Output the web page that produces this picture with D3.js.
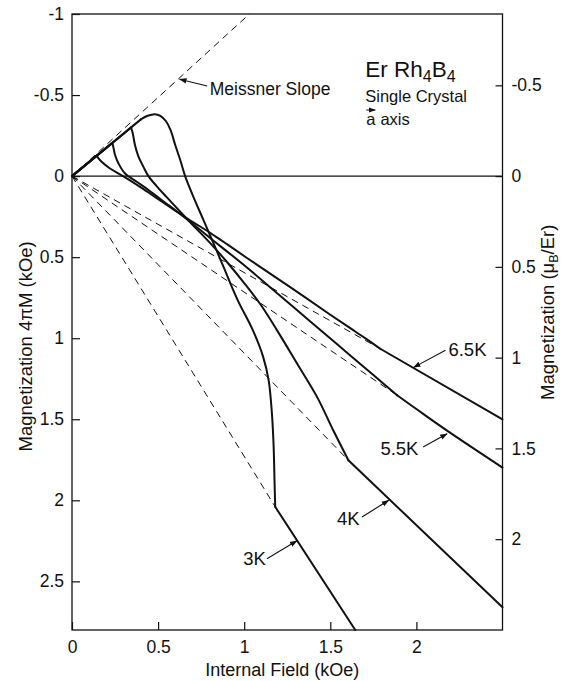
<!DOCTYPE html>
<html><head><meta charset="utf-8">
<script src="https://cdn.jsdelivr.net/npm/d3@7"></script>
<style>
body{margin:0;background:#fff}
svg{display:block}
text{font-family:"Liberation Sans",Arial,Helvetica,sans-serif;fill:#111}
</style>
</head><body>
<svg id="chart" width="565" height="681"></svg>
<script>
// ---------- data ----------
const fieldDomain = [0, 2.5];
const magDomain = [-1, 2.8];          // 4πM (kOe), positive downward
const muPerKOe = 0.893;               // μB/Er per kOe (right axis)

const fieldTicks = [0, 0.5, 1, 1.5, 2];
const fieldTickLabels = ["0", "0.5", "1", "1.5", "2"];
const magTicks = [-1, -0.5, 0, 0.5, 1, 1.5, 2, 2.5];
const magTickLabels = ["-1", "-0.5", "0", "0.5", "1", "1.5", "2", "2.5"];
const muTicks = [-0.5, 0, 0.5, 1, 1.5, 2];
const muTickLabels = ["-0.5", "0", "0.5", "1", "1.5", "2"];

const meissnerSlope = [[0, 0], [1.03, -1]];

// each curve: initial straight part [origin, branch], smooth part from branch to kink
const curve3K = [[0, 0], [0.40, -0.35], [0.44, -0.372], [0.48, -0.382], [0.515, -0.37], [0.545, -0.34],
  [0.572, -0.285], [0.60, -0.19], [0.63, -0.095], [0.657, 0.0], [0.705, 0.128], [0.763, 0.27],
  [0.822, 0.415], [0.88, 0.56], [0.96, 0.76], [1.05, 0.95], [1.11, 1.115], [1.142, 1.26],
  [1.161, 1.465], [1.171, 1.67], [1.176, 1.877], [1.18, 2.04]];
const tail3K = [[1.18, 2.04], [1.645, 2.8]];

const curve4K = [[0, 0], [0.343, -0.30], [0.353, -0.263], [0.366, -0.19], [0.386, -0.12], [0.415, -0.057],
  [0.444, 0.0], [0.49, 0.06], [0.55, 0.13], [0.62, 0.21], [0.70, 0.30], [0.80, 0.41], [0.90, 0.53],
  [1.00, 0.66], [1.10, 0.80], [1.19, 0.95], [1.306, 1.154], [1.423, 1.362], [1.517, 1.568], [1.605, 1.753]];
const tail4K = [[1.605, 1.753], [2.5, 2.66]];

const curve5_5K = [[0, 0], [0.234, -0.205], [0.24, -0.18], [0.25, -0.13], [0.27, -0.078], [0.308, -0.016],
  [0.376, 0.035], [0.45, 0.09], [0.53, 0.155], [0.63, 0.235], [0.80, 0.38], [1.00, 0.55], [1.20, 0.73],
  [1.33, 0.848], [1.461, 0.966], [1.616, 1.106], [1.752, 1.229], [1.888, 1.352]];
const tail5_5K = [[1.888, 1.352], [2.004, 1.44], [2.178, 1.57], [2.5, 1.798]];

const curve6_5K = [[0, 0], [0.143, -0.125], [0.172, -0.088], [0.221, -0.047], [0.318, 0.014], [0.415, 0.08],
  [0.512, 0.15], [0.609, 0.22], [0.705, 0.285], [0.802, 0.35], [0.90, 0.42], [1.016, 0.505],
  [1.17, 0.615], [1.35, 0.745], [1.50, 0.855], [1.616, 0.938], [1.70, 0.998], [1.79, 1.065]];
const tail6_5K = [[1.79, 1.065], [2.5, 1.50]];

const temps = ["3K", "4K", "5.5K", "6.5K"];
const curves = [curve3K, curve4K, curve5_5K, curve6_5K];
const tails = [tail3K, tail4K, tail5_5K, tail6_5K];

// annotation placement (data units)
const labelAt = [[0.994, 2.401], [1.539, 2.154], [1.791, 1.722], [2.186, 1.111]];
const arrowFrom = [[1.132, 2.36], [1.684, 2.103], [2.039, 1.671], [2.169, 1.074]];
const arrowTo = [[1.306, 2.25], [1.839, 2.0], [2.178, 1.59], [1.984, 1.18]];

// ---------- chart ----------
const svg = d3.select("#chart");
const x = d3.scaleLinear().domain(fieldDomain).range([72, 502.5]);
const y = d3.scaleLinear().domain(magDomain).range([14, 630]);
const yR = d3.scaleLinear().domain(magDomain.map(v => v * muPerKOe)).range([14, 630]);
const ink = "#111";

const defs = svg.append("defs");
defs.append("marker").attr("id", "ah").attr("viewBox", "0 0 10 10").attr("refX", 9).attr("refY", 5)
  .attr("markerWidth", 7).attr("markerHeight", 7).attr("orient", "auto")
  .append("path").attr("d", "M0,1.5 L10,5 L0,8.5 Z").attr("fill", ink);

// frame
svg.append("rect").attr("x", x(fieldDomain[0])).attr("y", y(magDomain[0]))
  .attr("width", x(fieldDomain[1]) - x(fieldDomain[0])).attr("height", y(magDomain[1]) - y(magDomain[0]))
  .attr("fill", "none").attr("stroke", ink).attr("stroke-width", 1.3);

// axes
function styleAxis(g, fs) {
  g.select(".domain").remove();
  g.selectAll(".tick line").attr("stroke", ink).attr("stroke-width", 1.2);
  g.selectAll(".tick text").attr("font-size", fs).attr("fill", ink)
    .style("font-family", '"Liberation Sans",Arial,sans-serif');
}
svg.append("g").attr("transform", `translate(${x(0)},0)`)
  .call(d3.axisLeft(y).tickValues(magTicks).tickSize(-8).tickPadding(8).tickFormat((d, i) => magTickLabels[i]))
  .call(g => styleAxis(g, 17.5));
svg.append("g").attr("transform", `translate(${x(fieldDomain[1])},0)`)
  .call(d3.axisRight(yR).tickValues(muTicks).tickSize(-7).tickPadding(9).tickFormat((d, i) => muTickLabels[i]))
  .call(g => styleAxis(g, 17.5));
svg.append("g").attr("transform", `translate(0,${y(magDomain[1])})`)
  .call(d3.axisBottom(x).tickValues(fieldTicks).tickSize(-8).tickPadding(11).tickFormat((d, i) => fieldTickLabels[i]))
  .call(g => styleAxis(g, 17.5));

// zero line
svg.append("line").attr("x1", x(fieldDomain[0])).attr("x2", x(fieldDomain[1]))
  .attr("y1", y(0)).attr("y2", y(0)).attr("stroke", ink).attr("stroke-width", 1.2);

const lin = d3.line().x(d => x(d[0])).y(d => y(d[1]));
const smooth = d3.line().x(d => x(d[0])).y(d => y(d[1])).curve(d3.curveCatmullRom.alpha(0.5));

// dashed lines: Meissner slope and origin-to-kink lines
svg.append("path").attr("d", lin(meissnerSlope)).attr("fill", "none").attr("stroke", ink)
  .attr("stroke-width", 1).attr("stroke-dasharray", "7,5");
curves.forEach(c => {
  svg.append("path").attr("d", lin([[0, 0], c[c.length - 1]])).attr("fill", "none").attr("stroke", ink)
    .attr("stroke-width", 1).attr("stroke-dasharray", "7,5");
});

// solid curves
curves.forEach((c, i) => {
  const g = svg.append("g").attr("fill", "none").attr("stroke", ink).attr("stroke-width", 2)
    .attr("stroke-linecap", "round").attr("stroke-linejoin", "round");
  g.append("path").attr("d", lin(c.slice(0, 2)));
  g.append("path").attr("d", smooth(c.slice(1)));
  g.append("path").attr("d", smooth(tails[i]));
});

// temperature labels with arrows
temps.forEach((t, i) => {
  svg.append("text").attr("x", x(labelAt[i][0])).attr("y", y(labelAt[i][1]))
    .attr("font-size", 18.5).text(t);
  svg.append("line").attr("x1", x(arrowFrom[i][0])).attr("y1", y(arrowFrom[i][1]))
    .attr("x2", x(arrowTo[i][0])).attr("y2", y(arrowTo[i][1]))
    .attr("stroke", ink).attr("stroke-width", 1.1).attr("marker-end", "url(#ah)");
});

// Meissner label
svg.append("text").attr("x", x(0.80)).attr("y", y(-0.50)).attr("font-size", 17.5).text("Meissner Slope");
svg.append("line").attr("x1", x(0.785)).attr("y1", y(-0.556)).attr("x2", x(0.625)).attr("y2", y(-0.598))
  .attr("stroke", ink).attr("stroke-width", 1.1).attr("marker-end", "url(#ah)");

// sample description
const tx = x(1.703);
const t1 = svg.append("text").attr("x", tx).attr("y", y(-0.613)).attr("font-size", 22.5);
t1.append("tspan").text("Er Rh");
t1.append("tspan").attr("dy", 5).attr("font-size", 16).text("4");
t1.append("tspan").attr("dy", -5).text("B");
t1.append("tspan").attr("dy", 5).attr("font-size", 16).text("4");
svg.append("text").attr("x", tx).attr("y", y(-0.459)).attr("font-size", 16.5).text("Single Crystal");
const t3 = svg.append("text").attr("x", tx + 1).attr("y", y(-0.315)).attr("font-size", 16.5);
t3.append("tspan").text("a");
t3.append("tspan").attr("dx", 5).text("axis");
svg.append("line").attr("x1", tx + 1).attr("x2", tx + 10).attr("y1", y(-0.315) - 15).attr("y2", y(-0.315) - 15)
  .attr("stroke", ink).attr("stroke-width", 1).attr("marker-end", "url(#ah)");

// axis titles
svg.append("text").attr("x", (x(fieldDomain[0]) + x(fieldDomain[1])) / 2 - 5).attr("y", 676)
  .attr("text-anchor", "middle").attr("font-size", 18).text("Internal Field (kOe)");
svg.append("text").attr("transform", `translate(32,${y(1.05)}) rotate(-90)`)
  .attr("text-anchor", "middle").attr("font-size", 18.5).text("Magnetization 4πM (kOe)");
const rt = svg.append("text").attr("transform", `translate(554,${y(0.84)}) rotate(-90)`)
  .attr("text-anchor", "middle").attr("font-size", 18.5);
rt.append("tspan").text("Magnetization (μ");
rt.append("tspan").attr("dy", 4).attr("font-size", 12.5).text("B");
rt.append("tspan").attr("dy", -4).text("/Er)");
</script>
</body></html>
